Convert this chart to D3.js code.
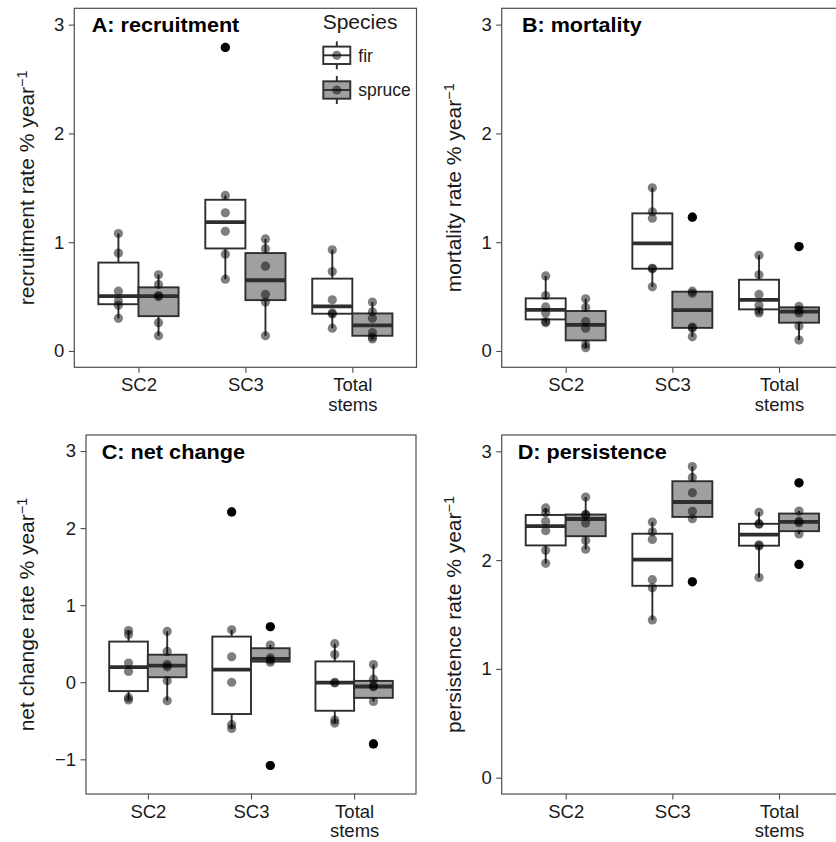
<!DOCTYPE html>
<html>
<head>
<meta charset="utf-8">
<script src="https://cdn.jsdelivr.net/npm/d3@7"></script>
<style>
  body { margin: 0; background: #fff; }
  svg { display: block; font-family: "Liberation Sans", Arial, Helvetica, sans-serif; }
</style>
</head>
<body>
<svg id="chart" width="836" height="842"></svg>
<script>
// ---- data: plot-level rates (% per year), six plots per group ----
const categories = ["SC2", "SC3", "Total stems"];
const species = ["fir", "spruce"];

const recruitmentFir = [
  [0.30, 0.42, 0.46, 0.55, 0.90, 1.08],
  [0.66, 0.89, 1.10, 1.27, 1.43, 2.79],
  [0.21, 0.34, 0.35, 0.47, 0.73, 0.93]
];
const recruitmentSpruce = [
  [0.14, 0.26, 0.50, 0.51, 0.61, 0.70],
  [0.14, 0.45, 0.52, 0.78, 0.94, 1.03],
  [0.11, 0.13, 0.17, 0.30, 0.36, 0.45]
];
const mortalityFir = [
  [0.26, 0.27, 0.35, 0.405, 0.51, 0.69],
  [0.59, 0.755, 0.76, 1.22, 1.28, 1.50],
  [0.35, 0.37, 0.42, 0.52, 0.70, 0.88]
];
const mortalitySpruce = [
  [0.03, 0.06, 0.21, 0.27, 0.40, 0.48],
  [0.13, 0.21, 0.22, 0.53, 0.55, 1.23],
  [0.10, 0.23, 0.35, 0.375, 0.41, 0.96]
];
const netChangeFir = [
  [-0.23, -0.20, 0.14, 0.25, 0.62, 0.67],
  [-0.60, -0.55, 0.00, 0.33, 0.68, 2.21],
  [-0.53, -0.49, -0.01, 0.00, 0.36, 0.50]
];
const netChangeSpruce = [
  [-0.24, 0.02, 0.20, 0.23, 0.40, 0.66],
  [-1.08, 0.26, 0.29, 0.316, 0.483, 0.72],
  [-0.80, -0.25, -0.06, -0.05, 0.04, 0.23]
];
const persistenceFir = [
  [1.97, 2.09, 2.27, 2.355, 2.435, 2.48],
  [1.45, 1.745, 1.82, 2.19, 2.26, 2.35],
  [1.84, 2.13, 2.14, 2.33, 2.335, 2.44]
];
const persistenceSpruce = [
  [2.10, 2.18, 2.34, 2.416, 2.42, 2.58],
  [1.80, 2.38, 2.448, 2.62, 2.76, 2.86],
  [1.96, 2.24, 2.344, 2.358, 2.451, 2.71]
];

const rateTicks = [0, 1, 2, 3];
const netTicks = [-1, 0, 1, 2, 3];
const panelTitles = ["A: recruitment", "B: mortality", "C: net change", "D: persistence"];
const axisTitles = ["recruitment rate % year", "mortality rate % year",
                    "net change rate % year", "persistence rate % year"];

// ---- panel definitions ----
const panels = [
  { title: panelTitles[0], yTitle: axisTitles[0], fir: recruitmentFir, spruce: recruitmentSpruce,
    ticks: rateTicks, domain: [-0.15, 3.15],
    frame: { left: 74.3, right: 416.5, top: 8.3, bottom: 367.3 },
    titleX: 91.7, titleW: 147.6, yTitleX: 34, legend: true },
  { title: panelTitles[1], yTitle: axisTitles[1], fir: mortalityFir, spruce: mortalitySpruce,
    ticks: rateTicks, domain: [-0.15, 3.15],
    frame: { left: 501.7, right: 843, top: 8.3, bottom: 367.3 },
    titleX: 522, titleW: 119.7, yTitleX: 461 },
  { title: panelTitles[2], yTitle: axisTitles[2], fir: netChangeFir, spruce: netChangeSpruce,
    ticks: netTicks, domain: [-1.45, 3.208],
    frame: { left: 86, right: 416, top: 435, bottom: 794 },
    titleX: 101.7, titleW: 143.3, yTitleX: 34 },
  { title: panelTitles[3], yTitle: axisTitles[3], fir: persistenceFir, spruce: persistenceSpruce,
    ticks: rateTicks, domain: [-0.15, 3.15],
    frame: { left: 501.7, right: 843, top: 435, bottom: 794 },
    titleX: 517.7, titleW: 149, yTitleX: 461 }
];

const fills = { fir: "#ffffff", spruce: "#a0a0a0" };
const lineCol = "#2e2e2e";
const frameCol = "#4d4d4d";
const textCol = "#1a1a1a";

// Tukey box statistics (quantile type 7, 1.5 IQR whiskers)
function boxStats(vals) {
  const q1 = d3.quantile(vals, 0.25), med = d3.quantile(vals, 0.5), q3 = d3.quantile(vals, 0.75);
  const iqr = q3 - q1, lo = q1 - 1.5 * iqr, hi = q3 + 1.5 * iqr;
  const inside = vals.filter(v => v >= lo && v <= hi);
  return { q1, med, q3, wlo: d3.min(inside), whi: d3.max(inside),
           out: vals.filter(v => v < lo || v > hi) };
}

const svg = d3.select("#chart");
const fmt = d => (d < 0 ? "\u2212" + Math.abs(d) : String(d));

panels.forEach(p => {
  const f = p.frame;
  const x = d3.scalePoint().domain(categories).range([f.left, f.right]).padding(0.6);
  const y = d3.scaleLinear().domain(p.domain).range([f.bottom, f.top]);
  const step = x.step();
  const hw = step * 0.1875;              // half width of one dodged box
  const g = svg.append("g");

  // clip to panel so nothing spills past the frame
  const clipId = "clip" + p.title[0];
  svg.append("clipPath").attr("id", clipId)
    .append("rect").attr("x", f.left).attr("y", f.top)
    .attr("width", f.right - f.left).attr("height", f.bottom - f.top);
  const plot = g.append("g").attr("clip-path", `url(#${clipId})`);

  const groups = [];
  categories.forEach((c, i) => {
    species.forEach((s, j) => {
      const vals = p[s][i];
      groups.push({ cat: c, sp: s, vals, cx: x(c) + (j === 0 ? -hw : hw), st: boxStats(vals) });
    });
  });

  // whiskers
  groups.forEach(d => {
    plot.append("line").attr("x1", d.cx).attr("x2", d.cx)
      .attr("y1", y(d.st.q3)).attr("y2", y(d.st.whi))
      .attr("stroke", lineCol).attr("stroke-width", 1.9);
    plot.append("line").attr("x1", d.cx).attr("x2", d.cx)
      .attr("y1", y(d.st.q1)).attr("y2", y(d.st.wlo))
      .attr("stroke", lineCol).attr("stroke-width", 1.9);
  });
  // boxes and medians
  groups.forEach(d => {
    plot.append("rect").attr("x", d.cx - hw).attr("width", 2 * hw)
      .attr("y", y(d.st.q3)).attr("height", y(d.st.q1) - y(d.st.q3))
      .attr("fill", fills[d.sp]).attr("stroke", lineCol).attr("stroke-width", 1.9);
    plot.append("line").attr("x1", d.cx - hw).attr("x2", d.cx + hw)
      .attr("y1", y(d.st.med)).attr("y2", y(d.st.med))
      .attr("stroke", lineCol).attr("stroke-width", 3.8);
  });
  // outliers
  groups.forEach(d => {
    plot.selectAll(null).data(d.st.out).enter().append("circle")
      .attr("cx", d.cx).attr("cy", v => y(v)).attr("r", 4.6).attr("fill", "#000");
  });
  // individual plot values
  groups.forEach(d => {
    plot.selectAll(null).data(d.vals).enter().append("circle")
      .attr("cx", d.cx).attr("cy", v => y(v)).attr("r", 4.6)
      .attr("fill", "#000").attr("fill-opacity", 0.5);
  });

  // frame
  g.append("rect").attr("x", f.left).attr("y", f.top)
    .attr("width", f.right - f.left).attr("height", f.bottom - f.top)
    .attr("fill", "none").attr("stroke", frameCol).attr("stroke-width", 1.2);

  // y axis
  const ya = g.append("g").attr("transform", `translate(${f.left},0)`)
    .call(d3.axisLeft(y).tickValues(p.ticks).tickFormat(fmt).tickSize(5.5).tickPadding(4.5));
  ya.select(".domain").remove();
  ya.selectAll("line").attr("stroke", frameCol).attr("stroke-width", 1.1);
  ya.selectAll("text").attr("fill", textCol).style("font-size", "18.5px")
    .style("font-family", "'Liberation Sans', Arial, sans-serif");

  // x axis with two-line labels
  const xa = g.append("g").attr("transform", `translate(0,${f.bottom})`)
    .call(d3.axisBottom(x).tickSize(5.5).tickPadding(5));
  xa.select(".domain").remove();
  xa.selectAll("line").attr("stroke", frameCol).attr("stroke-width", 1.1);
  xa.selectAll("text").attr("fill", textCol).style("font-size", "18.5px")
    .style("font-family", "'Liberation Sans', Arial, sans-serif")
    .attr("dy", null)
    .each(function (d) {
      const t = d3.select(this).text("");
      d.split(" ").forEach((w, k) => {
        t.append("tspan").attr("x", 0).attr("dy", k === 0 ? "0.71em" : "1.06em").text(w);
      });
    });

  // y axis title with superscript
  const cy = (f.top + f.bottom) / 2;
  const yt = g.append("text")
    .attr("transform", `translate(${p.yTitleX},${cy}) rotate(-90)`)
    .attr("text-anchor", "middle").attr("fill", textCol)
    .style("font-size", "21px");
  yt.append("tspan").text(p.yTitle);
  yt.append("tspan").attr("dy", "-0.5em").style("font-size", "14.5px").text("\u22121");

  // panel title
  g.append("text").attr("x", p.titleX).attr("y", f.top + 24)
    .attr("fill", "#000").style("font-size", "21px").style("font-weight", "bold")
    .style("font-family", "'Liberation Sans', Arial, sans-serif")
    .attr("textLength", p.titleW).attr("lengthAdjust", "spacingAndGlyphs")
    .text(p.title);

  // legend
  if (p.legend) {
    const lg = g.append("g");
    lg.append("text").attr("x", 322.7).attr("y", 29.3).attr("fill", textCol)
      .style("font-size", "21px").text("Species");
    const keyX = 336.8;
    const keyYs = [55.3, 90];
    species.forEach((s, k) => {
      const ky = keyYs[k];
      lg.append("line").attr("x1", keyX).attr("x2", keyX).attr("y1", ky - 14).attr("y2", ky + 14)
        .attr("stroke", lineCol).attr("stroke-width", 1.9);
      lg.append("rect").attr("x", keyX - 13.5).attr("y", ky - 8.7).attr("width", 27).attr("height", 17.4)
        .attr("fill", fills[s]).attr("stroke", lineCol).attr("stroke-width", 1.9);
      lg.append("line").attr("x1", keyX - 13.5).attr("x2", keyX + 13.5).attr("y1", ky).attr("y2", ky)
        .attr("stroke", lineCol).attr("stroke-width", 1.9);
      lg.append("circle").attr("cx", keyX).attr("cy", ky).attr("r", 4.6)
        .attr("fill", "#000").attr("fill-opacity", 0.5);
      lg.append("text").attr("x", 358.3).attr("y", ky + 6.4).attr("fill", textCol)
        .style("font-size", "17.5px").text(s);
    });
  }
});
</script>
</body>
</html>
